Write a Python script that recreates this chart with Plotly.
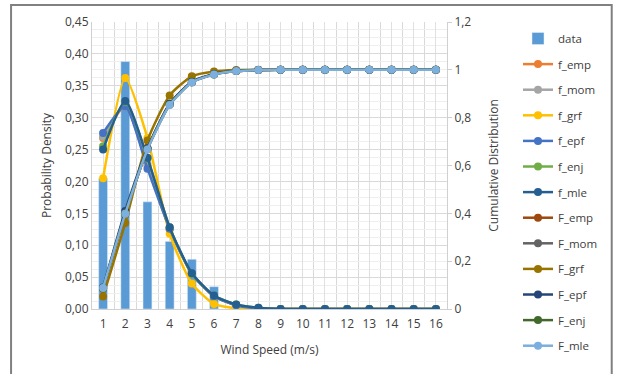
import plotly.graph_objects as go

wind_speed = list(range(1, 17))

data = [0.205, 0.388, 0.168, 0.106, 0.078, 0.035, 0.004, 0.001, 0, 0, 0, 0, 0, 0, 0, 0]

f_emp = [0.268, 0.318, 0.225, 0.125, 0.055, 0.020, 0.006, 0.001, 0, 0, 0, 0, 0, 0, 0, 0]
f_mom = [0.270, 0.320, 0.228, 0.126, 0.055, 0.020, 0.006, 0.001, 0, 0, 0, 0, 0, 0, 0, 0]
f_grf = [0.205, 0.362, 0.268, 0.118, 0.040, 0.008, 0.001, 0.000, 0, 0, 0, 0, 0, 0, 0, 0]
f_epf = [0.276, 0.318, 0.220, 0.126, 0.056, 0.020, 0.006, 0.001, 0, 0, 0, 0, 0, 0, 0, 0]
f_enj = [0.255, 0.325, 0.236, 0.128, 0.055, 0.021, 0.007, 0.002, 0, 0, 0, 0, 0, 0, 0, 0]
f_mle = [0.250, 0.326, 0.237, 0.128, 0.056, 0.021, 0.007, 0.002, 0, 0, 0, 0, 0, 0, 0, 0]

F_emp = [0.085, 0.395, 0.670, 0.855, 0.948, 0.982, 0.995, 0.999, 1, 1, 1, 1, 1, 1, 1, 1]
F_mom = [0.086, 0.396, 0.671, 0.856, 0.948, 0.982, 0.995, 0.999, 1, 1, 1, 1, 1, 1, 1, 1]
F_grf = [0.052, 0.360, 0.705, 0.893, 0.973, 0.993, 0.999, 1.000, 1, 1, 1, 1, 1, 1, 1, 1]
F_epf = [0.090, 0.410, 0.672, 0.858, 0.950, 0.983, 0.996, 0.999, 1, 1, 1, 1, 1, 1, 1, 1]
F_enj = [0.087, 0.400, 0.668, 0.855, 0.948, 0.981, 0.995, 0.999, 1, 1, 1, 1, 1, 1, 1, 1]
F_mle = [0.088, 0.398, 0.667, 0.853, 0.947, 0.980, 0.995, 0.999, 1, 1, 1, 1, 1, 1, 1, 1]

pdf_series = [
    ("f_emp", f_emp, "#ED7D31"),
    ("f_mom", f_mom, "#A5A5A5"),
    ("f_grf", f_grf, "#FFC000"),
    ("f_epf", f_epf, "#4472C4"),
    ("f_enj", f_enj, "#70AD47"),
    ("f_mle", f_mle, "#255E91"),
]
cdf_series = [
    ("F_emp", F_emp, "#9E480E"),
    ("F_mom", F_mom, "#636363"),
    ("F_grf", F_grf, "#997300"),
    ("F_epf", F_epf, "#264478"),
    ("F_enj", F_enj, "#43682B"),
    ("F_mle", F_mle, "#7CAFDD"),
]

fig = go.Figure()
fig.add_trace(go.Bar(x=wind_speed, y=data, name="data", marker_color="#5B9BD5",
                     width=0.4, legendgroup="data"))
for name, vals, col in pdf_series:
    fig.add_trace(go.Scatter(x=wind_speed, y=vals, name=name, mode="lines+markers",
                             line=dict(color=col, width=2.5, shape="spline", smoothing=0.6),
                             marker=dict(color=col, size=8), legendgroup=name, yaxis="y"))
for name, vals, col in cdf_series:
    fig.add_trace(go.Scatter(x=wind_speed, y=vals, name=name, mode="lines+markers",
                             line=dict(color=col, width=2.5, shape="spline", smoothing=0.6),
                             marker=dict(color=col, size=8), legendgroup=name, yaxis="y2"))

font = "Open Sans, Liberation Sans, sans-serif"
fig.update_layout(
    width=622, height=374,
    margin=dict(l=92, r=175, t=22, b=65),
    paper_bgcolor="white", plot_bgcolor="white",
    separators=",.",
    font=dict(family=font, size=11, color="#404040"),
    showlegend=True,
    legend=dict(x=1.20, y=0.993, xanchor="left", yanchor="top",
                tracegroupgap=6.6, font=dict(size=11.5, color="#404040"),
                itemwidth=30, bgcolor="rgba(0,0,0,0)", maxheight=374),
    xaxis=dict(range=[0.5, 16.5], tickvals=wind_speed, ticktext=[str(v) for v in wind_speed],
               showgrid=True, gridcolor="#E0E0E0", gridwidth=1, automargin=False,
               minor=dict(tick0=0.5, dtick=1, showgrid=True, gridcolor="#D9D9D9", gridwidth=1),
               showline=True, linecolor="#D0D0D0", zeroline=False, ticks="",
               ticklabelstandoff=4,
               title=dict(text="Wind Speed (m/s)", font=dict(size=12, color="#404040"), standoff=14),
               tickfont=dict(size=12)),
    yaxis=dict(range=[0, 0.45], dtick=0.05, tickformat=".2f", automargin=False,
               showgrid=True, gridcolor="#D9D9D9", gridwidth=1,
               minor=dict(dtick=0.0125, showgrid=True, gridcolor="#EFEFEF", gridwidth=1),
               showline=True, linecolor="#D0D0D0", zeroline=False, ticks="",
               title=dict(text="Probability Density", font=dict(size=12, color="#404040"), standoff=10),
               tickfont=dict(size=12)),
    yaxis2=dict(range=[0, 1.2], dtick=0.2, overlaying="y", side="right", automargin=False,
                showgrid=False, zeroline=False, showline=True, linecolor="#D0D0D0",
                ticks="outside", ticklen=4, tickcolor="#D0D0D0",
                title=dict(text="Cumulative Distribution", font=dict(size=12, color="#404040"), standoff=19),
                tickfont=dict(size=12)),
    shapes=[dict(type="rect", xref="paper", yref="paper",
                 x0=-0.228, x1=1.464, y0=-0.26, y1=1.059,
                 line=dict(color="#808080", width=2), fillcolor="rgba(0,0,0,0)", layer="below")],
)

fig.write_html("out.html", post_script="document.body.style.margin='0';",
               config={"displayModeBar": False})
